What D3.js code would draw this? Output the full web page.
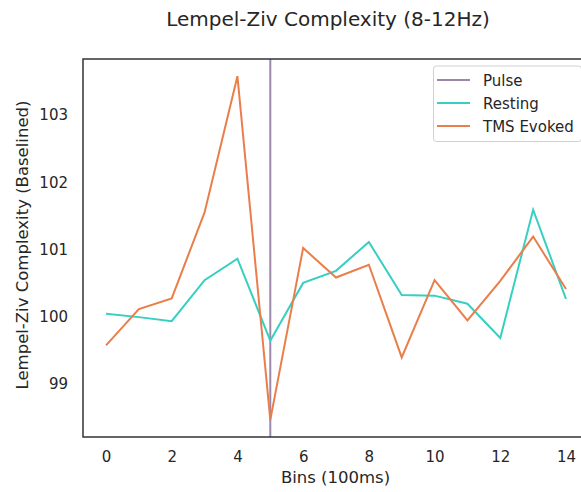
<!DOCTYPE html>
<html>
<head>
<meta charset="utf-8">
<script src="https://cdn.jsdelivr.net/npm/d3@7"></script>
<style>
  body { margin: 0; background: #fff; }
  svg { font-family: "DejaVu Sans", sans-serif; }
</style>
</head>
<body>
<svg id="chart" width="581" height="492"></svg>
<script>
const bins = [0, 1, 2, 3, 4, 5, 6, 7, 8, 9, 10, 11, 12, 13, 14];
const resting = [100.04, 99.99, 99.93, 100.54, 100.86, 99.64, 100.50, 100.68, 101.11, 100.32, 100.31, 100.19, 99.68, 101.59, 100.26];
const tmsEvoked = [99.57, 100.11, 100.27, 101.55, 103.58, 98.46, 101.02, 100.58, 100.77, 99.39, 100.54, 99.94, 100.53, 101.19, 100.41];
const pulseBin = 5;
const xTicks = [0, 2, 4, 6, 8, 10, 12, 14];
const yTicks = [99, 100, 101, 102, 103];
const legendItems = [
  { name: "Pulse", color: "#9d87a8" },
  { name: "Resting", color: "#36cfc1" },
  { name: "TMS Evoked", color: "#ea7e4b" }
];

const svg = d3.select("#chart");
const margin = { left: 83, top: 59, right: 589, bottom: 437 };

// matplotlib style 5% padding on both axes
const allY = resting.concat(tmsEvoked);
const yMin = d3.min(allY), yMax = d3.max(allY);
const yPad = (yMax - yMin) * 0.05;
const xPad = (d3.max(bins) - d3.min(bins)) * 0.05;

const x = d3.scaleLinear()
  .domain([d3.min(bins) - xPad, d3.max(bins) + xPad])
  .range([margin.left, margin.right]);
const y = d3.scaleLinear()
  .domain([yMin - yPad, yMax + yPad])
  .range([margin.bottom, margin.top]);

// axes (no tick marks, just labels)
const xAxis = svg.append("g")
  .attr("transform", `translate(0,${margin.bottom})`)
  .call(d3.axisBottom(x).tickValues(xTicks).tickFormat(d3.format("d")).tickSize(0).tickPadding(14));
const yAxis = svg.append("g")
  .attr("transform", `translate(${margin.left},0)`)
  .call(d3.axisLeft(y).tickValues(yTicks).tickFormat(d3.format("d")).tickSize(0).tickPadding(15));
[xAxis, yAxis].forEach(a => {
  a.select(".domain").remove();
  a.selectAll("text")
    .attr("fill", "#262626")
    .style("font-size", "15px")
    .style("font-family", "DejaVu Sans, sans-serif");
});

const clipId = "plotClip";
svg.append("clipPath").attr("id", clipId)
  .append("rect")
  .attr("x", margin.left).attr("y", margin.top)
  .attr("width", margin.right - margin.left)
  .attr("height", margin.bottom - margin.top);

const plot = svg.append("g").attr("clip-path", `url(#${clipId})`);

plot.append("line")
  .attr("x1", x(pulseBin)).attr("x2", x(pulseBin))
  .attr("y1", margin.top).attr("y2", margin.bottom)
  .attr("stroke", legendItems[0].color)
  .attr("stroke-width", 2);

const line = d3.line()
  .x((d, i) => x(bins[i]))
  .y(d => y(d));

plot.append("path")
  .datum(resting)
  .attr("d", line)
  .attr("fill", "none")
  .attr("stroke", legendItems[1].color)
  .attr("stroke-width", 2);

plot.append("path")
  .datum(tmsEvoked)
  .attr("d", line)
  .attr("fill", "none")
  .attr("stroke", legendItems[2].color)
  .attr("stroke-width", 2);

// spines
svg.append("rect")
  .attr("x", margin.left).attr("y", margin.top)
  .attr("width", margin.right - margin.left)
  .attr("height", margin.bottom - margin.top)
  .attr("fill", "none")
  .attr("stroke", "#333")
  .attr("stroke-width", 1.5);

// legend
const legend = svg.append("g");
legend.append("rect")
  .attr("x", 433.5).attr("y", 66)
  .attr("width", 148).attr("height", 75.5)
  .attr("rx", 3)
  .attr("fill", "#fff")
  .attr("fill-opacity", 0.8)
  .attr("stroke", "#d0d0d0");
const rows = legend.selectAll("g.row").data(legendItems).join("g")
  .attr("class", "row")
  .attr("transform", (d, i) => `translate(0,${80 + i * 23})`);
rows.append("line")
  .attr("x1", 437).attr("x2", 470)
  .attr("stroke", d => d.color)
  .attr("stroke-width", 2);
rows.append("text")
  .attr("x", 483).attr("y", 5.5)
  .attr("fill", "#262626")
  .style("font-size", "15px")
  .text(d => d.name);

// titles
svg.append("text")
  .attr("x", 328).attr("y", 26)
  .attr("text-anchor", "middle")
  .attr("fill", "#262626")
  .style("font-size", "20px")
  .text("Lempel-Ziv Complexity (8-12Hz)");

svg.append("text")
  .attr("x", (margin.left + margin.right) / 2 - 0.5).attr("y", 483)
  .attr("text-anchor", "middle")
  .attr("fill", "#262626")
  .style("font-size", "16.5px")
  .text("Bins (100ms)");

svg.append("text")
  .attr("transform", `translate(28,${(margin.top + margin.bottom) / 2 - 3}) rotate(-90)`)
  .attr("text-anchor", "middle")
  .attr("fill", "#262626")
  .style("font-size", "16.5px")
  .text("Lempel-Ziv Complexity (Baselined)");
</script>
</body>
</html>
